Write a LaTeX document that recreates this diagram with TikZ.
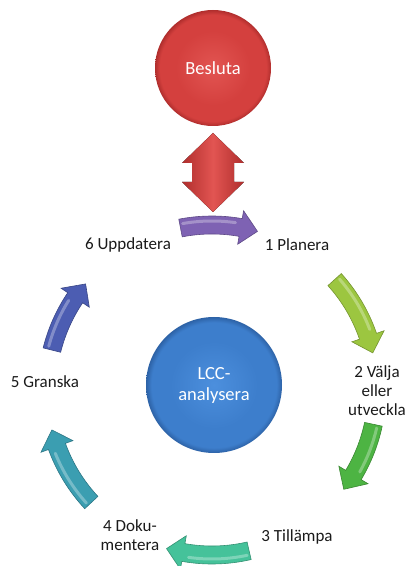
\documentclass[tikz,border=0pt]{standalone}
\usepackage{fontspec}
\setmainfont{Carlito}
\usetikzlibrary{calc}
\definecolor{redin}{HTML}{E25552}
\definecolor{redmid}{HTML}{D4403E}
\definecolor{redout}{HTML}{B02E2D}
\definecolor{bluein}{HTML}{4C8FDD}
\definecolor{bluemid}{HTML}{3D7ECC}
\definecolor{blueout}{HTML}{2D62A6}
\definecolor{apurple}{HTML}{7E62B3}
\definecolor{alime}{HTML}{9CC640}
\definecolor{agreen}{HTML}{4DB443}
\definecolor{amint}{HTML}{45C29A}
\definecolor{ateal}{HTML}{3B9EB1}
\definecolor{ablue}{HTML}{4C5DB2}
\definecolor{txt}{HTML}{1A1A1A}
\pgfdeclareradialshading{redball}{\pgfpoint{0bp}{0bp}}{color(0bp)=(redin); color(16bp)=(redmid); color(23bp)=(redmid); color(25bp)=(redout); color(50bp)=(redout)}
\pgfdeclareradialshading{blueball}{\pgfpoint{0bp}{0bp}}{color(0bp)=(bluein); color(16bp)=(bluemid); color(23bp)=(bluemid); color(25bp)=(blueout); color(50bp)=(blueout)}
\newcommand\cycarrow[3]{%
  \begin{scope}[shift={(212,176)}]
    \fill[fill=#3, draw=#3!75!black, line width=0.6pt]
      (#1:174) arc[start angle=#1, end angle={#2+6}, radius=174]
      -- ({#2+6}:182) -- (#2:165) -- ({#2+6}:148) -- ({#2+6}:156)
      arc[start angle={#2+6}, end angle=#1, radius=156] -- cycle;
    \draw[white, opacity=0.3, line width=3pt, line cap=round]
      ({#1-1}:169) arc[start angle={#1-1}, end angle={#2+8}, radius=169];
  \end{scope}}
\begin{document}
\begin{tikzpicture}[x=1pt,y=1pt,
  lbl/.style={text=txt, font=\fontsize{17}{19}\selectfont, align=center, inner sep=0pt},
  ball/.style={circle, inner sep=0pt, text=white, font=\fontsize{18.5}{21}\selectfont, align=center}]
\useasboundingbox (0,0) rectangle (412,566);
% circles
\node[ball, minimum size=116pt, shading=redball] (besluta) at (213,498) {Besluta};
\node[ball, minimum size=136pt, shading=blueball] (lcc) at (214,181) {LCC-\\analysera};
% double arrow
\coordinate (datop) at (213,433);
\coordinate (dabot) at (213,354);
\fill[left color=redout, right color=redout, middle color=redin]
  (datop) -- ++(31,-30) -- ++(-10,0) -- ++(0,-19) -- ++(10,0) -- (dabot)
  -- ++(-31,30) -- ++(10,0) -- ++(0,19) -- ++(-10,0) -- cycle;
% cycle arrows
\cycarrow{101}{74}{apurple}
\cycarrow{42}{13}{alime}
\cycarrow{-12}{-37}{agreen}
\cycarrow{-77}{-106}{amint}
\cycarrow{-137}{-166}{ateal}
\cycarrow{166}{140}{ablue}
% labels
\node[lbl] (l1) at (297,321) {1 Planera};
\node[lbl] (l2) at (377,175) {2 Välja\\eller\\utveckla};
\node[lbl] (l3) at (297,29) {3 Tillämpa};
\node[lbl] (l4) at (130,31) {4 Doku-\\mentera};
\node[lbl] (l5) at (45,184) {5 Granska};
\node[lbl] (l6) at (128,321) {6 Uppdatera};
\end{tikzpicture}
\end{document}
